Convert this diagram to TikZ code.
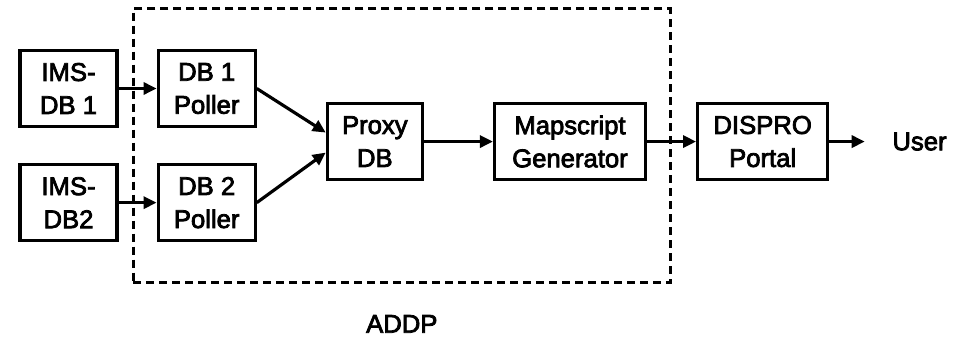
\documentclass[tikz,border=0pt]{standalone}
\usepackage{fontspec}
\setmainfont{Liberation Sans}
\newfontfamily\heavyfont{Liberation Sans}[FakeBold=3]
\usetikzlibrary{positioning,fit,calc,arrows.meta}
\begin{document}
\begin{tikzpicture}[
  every node/.style = {font=\heavyfont\fontsize{14.6}{18.8}\selectfont},
  block/.style = {shape=rectangle, draw, line width=1.8pt, align=center,
    minimum width=1.94cm, minimum height=1.52cm, inner sep=0pt},
  link/.style = {line width=1.8pt, -{Triangle[length=2.6mm,width=2.4mm]}},
  frame/.style = {draw, line width=1.8pt, dash pattern=on 1.6mm off 1mm,
    inner xsep=0.47cm, inner ysep=0.8cm}
  ]
  \useasboundingbox (0,0) rectangle (19.22,-6.82);
  \node[block] (imsA) at (1.37,-1.77) {IMS-\\DB 1};
  \node[block, below=0.7cm of imsA] (imsB) {IMS-\\DB2};
  \node[block, right=0.76cm of imsA] (pollA) {DB 1\\Poller};
  \node[block, right=0.76cm of imsB] (pollB) {DB 2\\Poller};
  \node[block, minimum width=1.9cm, yshift=0.08cm,
    right=1.38cm of $(pollA.east)!0.5!(pollB.east)$] (proxy) {Proxy\\DB};
  \node[block, minimum width=3.02cm, right=1.38cm of proxy] (mapgen) {Mapscript\\Generator};
  \node[block, minimum width=2.6cm, right=0.98cm of mapgen] (portal) {DISPRO\\Portal};
  \node[right=1.14cm of portal] (user) {User};
  \node[frame, fit=(pollA)(pollB)(mapgen)] (addpbox) {};
  \node[below=0.5cm of addpbox] (addp) {ADDP};

  \draw[link] (imsA) -- (pollA);
  \draw[link] (imsB) -- (pollB);
  \draw[link] (pollA.east) -- ([yshift=0.18cm]proxy.west);
  \draw[link] (pollB.east) -- ([yshift=-0.22cm]proxy.west);
  \draw[link] (proxy) -- (mapgen);
  \draw[link] (mapgen) -- (portal);
  \draw[link, shorten >=0.43cm] (portal) -- (user);
\end{tikzpicture}
\end{document}
